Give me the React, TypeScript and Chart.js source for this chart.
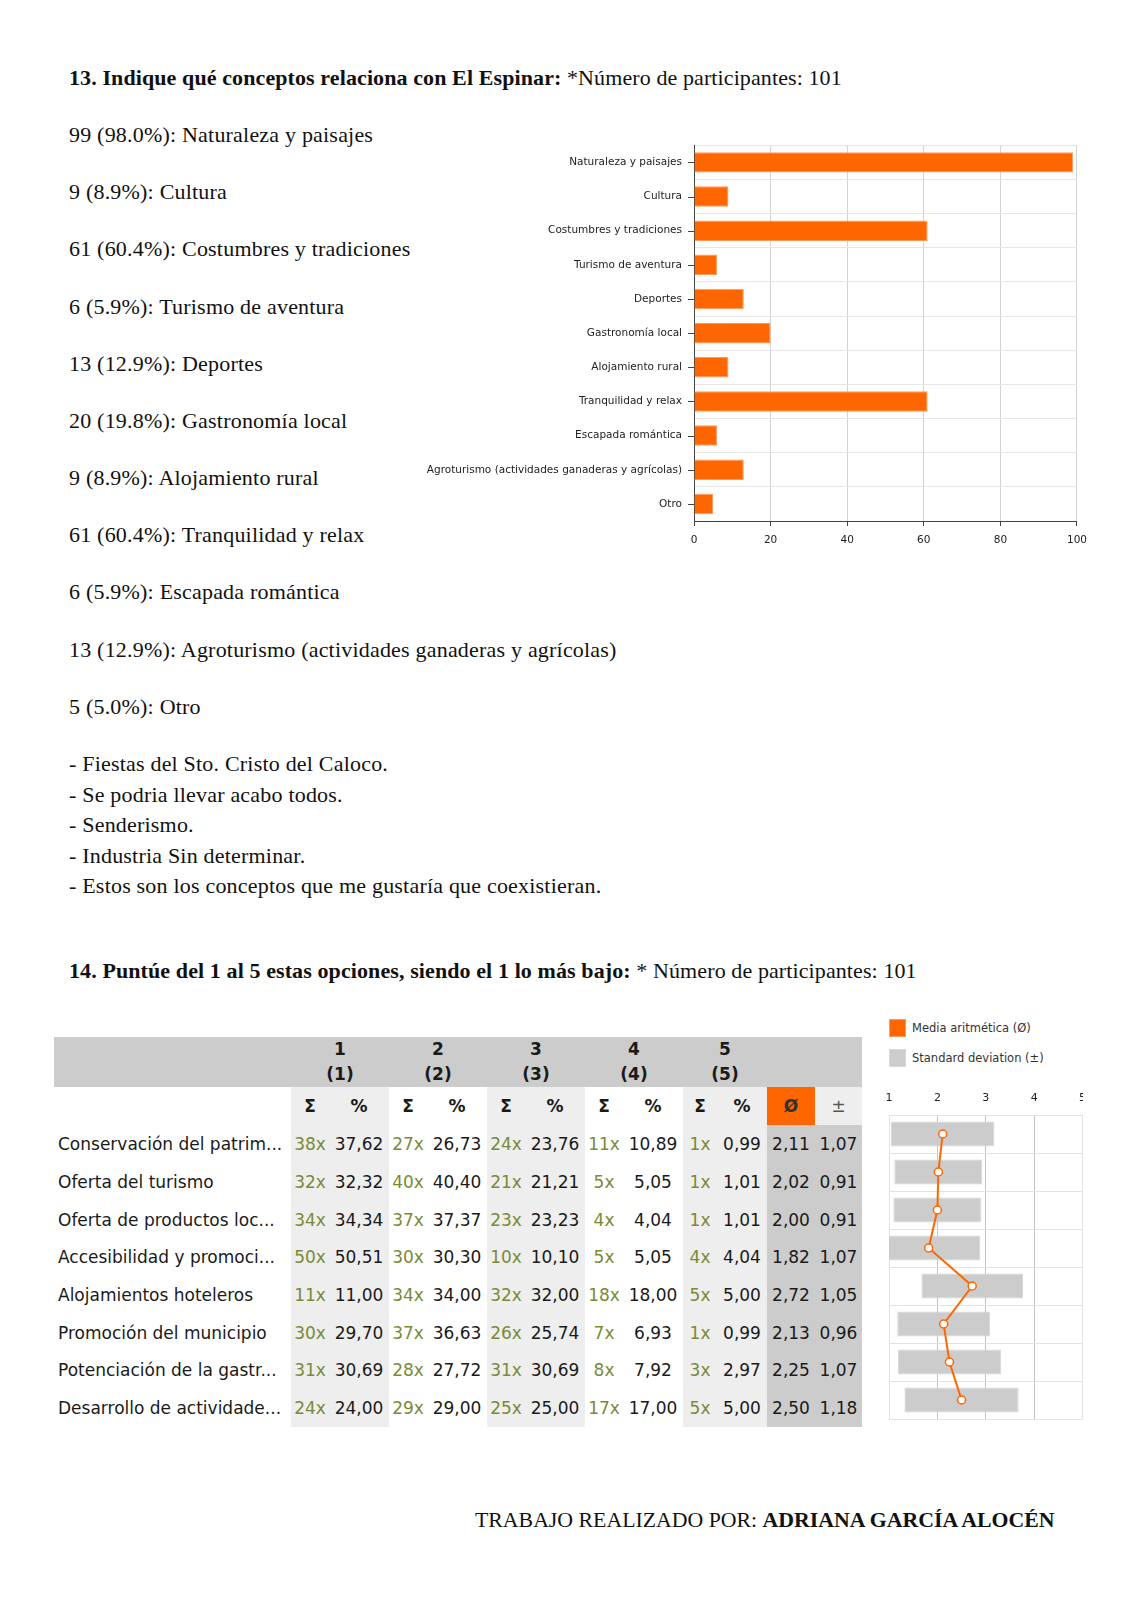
import React, { useEffect, useRef } from "react";
import { Chart, registerables } from "chart.js";

Chart.register(...registerables);

// ---------- Question 13 data ----------
const categories13 = [
  "Naturaleza y paisajes",
  "Cultura",
  "Costumbres y tradiciones",
  "Turismo de aventura",
  "Deportes",
  "Gastronomía local",
  "Alojamiento rural",
  "Tranquilidad y relax",
  "Escapada romántica",
  "Agroturismo (actividades ganaderas y agrícolas)",
  "Otro",
];
const counts13 = [99, 9, 61, 6, 13, 20, 9, 61, 6, 13, 5];
const percents13 = ["98.0", "8.9", "60.4", "5.9", "12.9", "19.8", "8.9", "60.4", "5.9", "12.9", "5.0"];
const xTicks13 = [0, 20, 40, 60, 80, 100];
const comments13 = [
  "- Fiestas del Sto. Cristo del Caloco.",
  "- Se podria llevar acabo todos.",
  "- Senderismo.",
  "- Industria Sin determinar.",
  "- Estos son los conceptos que me gustaría que coexistieran.",
];

// ---------- Question 14 data ----------
const rowLabels14 = [
  "Conservación del patrim...",
  "Oferta del turismo",
  "Oferta de productos loc...",
  "Accesibilidad y promoci...",
  "Alojamientos hoteleros",
  "Promoción del municipio",
  "Potenciación de la gastr...",
  "Desarrollo de actividade...",
];
const ratingHeaders = ["1", "2", "3", "4", "5"];
const count1 = [38, 32, 34, 50, 11, 30, 31, 24];
const pct1 = [37.62, 32.32, 34.34, 50.51, 11.0, 29.7, 30.69, 24.0];
const count2 = [27, 40, 37, 30, 34, 37, 28, 29];
const pct2 = [26.73, 40.4, 37.37, 30.3, 34.0, 36.63, 27.72, 29.0];
const count3 = [24, 21, 23, 10, 32, 26, 31, 25];
const pct3 = [23.76, 21.21, 23.23, 10.1, 32.0, 25.74, 30.69, 25.0];
const count4 = [11, 5, 4, 5, 18, 7, 8, 17];
const pct4 = [10.89, 5.05, 4.04, 5.05, 18.0, 6.93, 7.92, 17.0];
const count5 = [1, 1, 1, 4, 5, 1, 3, 5];
const pct5 = [0.99, 1.01, 1.01, 4.04, 5.0, 0.99, 2.97, 5.0];
const means14 = [2.11, 2.02, 2.0, 1.82, 2.72, 2.13, 2.25, 2.5];
const sds14 = [1.07, 0.91, 0.91, 1.07, 1.05, 0.96, 1.07, 1.18];
const meanTicks = [1, 2, 3, 4, 5];

const ORANGE = "#ff6600";
const SERIF = "'Liberation Serif', 'Times New Roman', serif";
const SANS = "'DejaVu Sans', sans-serif";
const OLIVE = "#7a8a36";

const fmt = (n: number) => n.toFixed(2).replace(".", ",");

function Txt(props: { x: number; y: number; size: number; children: any; style?: any }) {
  const { x, y, size, children, style } = props;
  return (
    <div
      style={{
        position: "absolute",
        left: x,
        top: y - size * 0.48,
        fontFamily: SERIF,
        fontSize: size,
        lineHeight: `${size}px`,
        letterSpacing: "0.2px",
        whiteSpace: "nowrap",
        color: "#111",
        ...style,
      }}
    >
      {children}
    </div>
  );
}

const centerTicks = {
  id: "centerTicks",
  afterDraw(chart: any) {
    const y = chart.scales.y;
    const x0 = chart.chartArea.left;
    const ctx = chart.ctx;
    ctx.save();
    ctx.strokeStyle = "#444";
    ctx.lineWidth = 1;
    y.ticks.forEach((_: any, i: number) => {
      const py = Math.round(y.getPixelForTick(i)) + 0.5;
      ctx.beginPath();
      ctx.moveTo(x0 - 6, py);
      ctx.lineTo(x0, py);
      ctx.stroke();
    });
    ctx.restore();
  },
};

function BarChart13() {
  const ref = useRef<HTMLCanvasElement>(null);
  useEffect(() => {
    const chart = new Chart(ref.current as HTMLCanvasElement, {
      type: "bar",
      data: {
        labels: categories13,
        datasets: [
          {
            data: counts13,
            backgroundColor: ORANGE,
            borderColor: "#ff9a5e",
            borderWidth: 1,
            barPercentage: 0.6,
            categoryPercentage: 1,
          },
        ],
      },
      options: {
        indexAxis: "y",
        animation: false,
        responsive: false,
        layout: { padding: 0 },
        plugins: { legend: { display: false }, tooltip: { enabled: false } },
        scales: {
          x: {
            min: 0,
            max: 100,
            afterBuildTicks: (s: any) => {
              s.ticks = xTicks13.map((v) => ({ value: v }));
            },
            ticks: { font: { family: SANS, size: 10.5 }, color: "#222", padding: 8 },
            grid: {
              color: (c: any) => (c.tick && c.tick.value === 0 ? "rgba(0,0,0,0)" : "#d2d2d2"),
              tickColor: "#444",
              tickLength: 5,
            },
            border: { color: "#444" },
            afterFit: (s: any) => {
              s.height = 34;
            },
          },
          y: {
            grid: { color: "#e6e6e6", drawTicks: false, offset: true },
            border: { color: "#444" },
            ticks: { font: { family: SANS, size: 10.5 }, color: "#222", padding: 12 },
            afterFit: (s: any) => {
              s.width = 294;
            },
          },
        },
      } as any,
      plugins: [centerTicks],
    });
    return () => chart.destroy();
  }, []);
  return (
    <canvas
      ref={ref}
      width={695}
      height={428}
      style={{ position: "absolute", left: 400, top: 127, width: 695, height: 428 }}
    />
  );
}

function MeanChart14() {
  const ref = useRef<HTMLCanvasElement>(null);
  useEffect(() => {
    const chart = new Chart(ref.current as HTMLCanvasElement, {
      type: "bar",
      data: {
        labels: rowLabels14,
        datasets: [
          {
            type: "line",
            label: "Media aritmética (Ø)",
            data: means14,
            borderColor: ORANGE,
            borderWidth: 2,
            pointBackgroundColor: "#ffffff",
            pointBorderColor: ORANGE,
            pointBorderWidth: 1.5,
            pointRadius: 4,
            order: 0,
          },
          {
            type: "bar",
            label: "Standard deviation (±)",
            data: means14.map((m, i) => [m - sds14[i], m + sds14[i]]),
            backgroundColor: "#cccccc",
            borderColor: "#d6d6d6",
            borderWidth: 1,
            borderSkipped: false,
            barPercentage: 0.66,
            categoryPercentage: 1,
            order: 1,
          },
        ],
      },
      options: {
        indexAxis: "y",
        animation: false,
        responsive: false,
        layout: { padding: { top: 0, right: 0, left: 19, bottom: 6 } },
        plugins: { legend: { display: false }, tooltip: { enabled: false } },
        scales: {
          x: {
            position: "top",
            min: 1,
            max: 5,
            afterBuildTicks: (s: any) => {
              s.ticks = meanTicks.map((v) => ({ value: v }));
            },
            ticks: { font: { family: SANS, size: 11 }, color: "#222", padding: 10 },
            grid: {
              color: (c: any) =>
                c.tick && (c.tick.value === 1 || c.tick.value === 5) ? "#e2e2e2" : "#c2c2c2",
              drawTicks: false,
            },
            border: { color: "#e2e2e2" },
            afterFit: (s: any) => {
              s.height = 30;
            },
          },
          y: {
            ticks: { display: false },
            grid: { color: "#e2e2e2", drawTicks: false, offset: true },
            border: { color: "#e2e2e2" },
            afterFit: (s: any) => {
              s.width = 0;
            },
          },
        },
      } as any,
    });
    return () => chart.destroy();
  }, []);
  return (
    <div style={{ position: "absolute", left: 870, top: 1085, width: 213, height: 340, overflow: "hidden" }}>
      <canvas ref={ref} width={226} height={340} style={{ width: 226, height: 340, display: "block" }} />
    </div>
  );
}

function Table14() {
  const counts = [count1, count2, count3, count4, count5];
  const pcts = [pct1, pct2, pct3, pct4, pct5];
  const groupBg = ["#eeeeee", "#ffffff", "#eeeeee", "#ffffff", "#eeeeee"];
  const sigW = [38, 38, 38, 38, 34];
  const pctW = [60, 60, 60, 60, 50];
  const rowH = [38, 38, 37, 38, 38, 37, 38, 38];
  const base: any = {
    padding: 0,
    textAlign: "center",
    whiteSpace: "nowrap",
    overflow: "hidden",
    boxSizing: "border-box",
  };
  return (
    <table
      style={{
        position: "absolute",
        left: 54,
        top: 1037,
        width: 808,
        borderCollapse: "collapse",
        borderSpacing: 0,
        tableLayout: "fixed",
        fontFamily: SANS,
        fontSize: 17,
        color: "#1a1a1a",
      }}
    >
      <colgroup>
        <col style={{ width: 237 }} />
        {ratingHeaders.map((_, g) => (
          <React.Fragment key={g}>
            <col style={{ width: sigW[g] }} />
            <col style={{ width: pctW[g] }} />
          </React.Fragment>
        ))}
        <col style={{ width: 48 }} />
        <col style={{ width: 47 }} />
      </colgroup>
      <tbody>
        <tr style={{ height: 50, background: "#cccccc" }}>
          <td style={base}></td>
          {ratingHeaders.map((h, g) => (
            <td key={g} colSpan={2} style={{ ...base, fontWeight: "bold", lineHeight: "25px" }}>
              {h}
              <br />({h})
            </td>
          ))}
          <td style={base}></td>
          <td style={base}></td>
        </tr>
        <tr style={{ height: 38 }}>
          <td style={{ ...base, background: "#ffffff" }}></td>
          {ratingHeaders.map((_, g) => (
            <React.Fragment key={g}>
              <td style={{ ...base, background: groupBg[g], fontWeight: "bold" }}>Σ</td>
              <td style={{ ...base, background: groupBg[g], fontWeight: "bold" }}>%</td>
            </React.Fragment>
          ))}
          <td style={{ ...base, background: ORANGE, fontWeight: "bold", color: "#333" }}>Ø</td>
          <td style={{ ...base, background: "#eeeeee", color: "#555" }}>±</td>
        </tr>
        {rowLabels14.map((lab, r) => (
          <tr key={r} style={{ height: rowH[r] }}>
            <td style={{ ...base, textAlign: "left", paddingLeft: 4, background: "#ffffff" }}>{lab}</td>
            {ratingHeaders.map((_, g) => (
              <React.Fragment key={g}>
                <td style={{ ...base, background: groupBg[g], color: OLIVE }}>{counts[g][r]}x</td>
                <td style={{ ...base, background: groupBg[g] }}>{fmt(pcts[g][r])}</td>
              </React.Fragment>
            ))}
            <td style={{ ...base, background: "#cccccc" }}>{fmt(means14[r])}</td>
            <td style={{ ...base, background: "#cccccc" }}>{fmt(sds14[r])}</td>
          </tr>
        ))}
      </tbody>
    </table>
  );
}

export default function App() {
  const itemY0 = 134.7;
  const itemStep = 57.16;
  const commentY0 = 763.5;
  const commentStep = 30.6;
  return (
    <div
      style={{
        position: "absolute",
        left: 0,
        top: 0,
        width: 1132,
        height: 1600,
        background: "#ffffff",
        overflow: "hidden",
      }}
    >
      <Txt x={69} y={77.6} size={22} style={{ letterSpacing: "0.1px" }}>
        <b>13. Indique qué conceptos relaciona con El Espinar:</b> *Número de participantes: 101
      </Txt>
      {categories13.map((c, i) => (
        <Txt key={i} x={69} y={itemY0 + i * itemStep} size={22}>
          {counts13[i]} ({percents13[i]}%): {c}
        </Txt>
      ))}
      {comments13.map((c, i) => (
        <Txt key={i} x={69} y={commentY0 + i * commentStep} size={22}>
          {c}
        </Txt>
      ))}
      <BarChart13 />

      <Txt x={69} y={970.7} size={22} style={{ letterSpacing: "0.1px" }}>
        <b>14. Puntúe del 1 al 5 estas opciones, siendo el 1 lo más bajo:</b> * Número de participantes: 101
      </Txt>
      <Table14 />

      <div style={{ position: "absolute", left: 889, top: 1019, width: 17, height: 18, background: ORANGE, boxSizing: "border-box", border: "1px solid #ff9a5e" }} />
      <div style={{ position: "absolute", left: 912, top: 1020, fontFamily: SANS, fontSize: 11.5, lineHeight: "16px", color: "#333", whiteSpace: "nowrap" }}>
        Media aritmética (Ø)
      </div>
      <div style={{ position: "absolute", left: 889, top: 1049, width: 17, height: 18, background: "#cccccc", boxSizing: "border-box", border: "1px solid #d8d8d8" }} />
      <div style={{ position: "absolute", left: 912, top: 1050, fontFamily: SANS, fontSize: 11.5, lineHeight: "16px", color: "#333", whiteSpace: "nowrap" }}>
        Standard deviation (±)
      </div>
      <MeanChart14 />

      <Txt x={475} y={1520.8} size={21.8} style={{ letterSpacing: "0px" }}>
        TRABAJO REALIZADO POR: <b>ADRIANA GARCÍA ALOCÉN</b>
      </Txt>
    </div>
  );
}
